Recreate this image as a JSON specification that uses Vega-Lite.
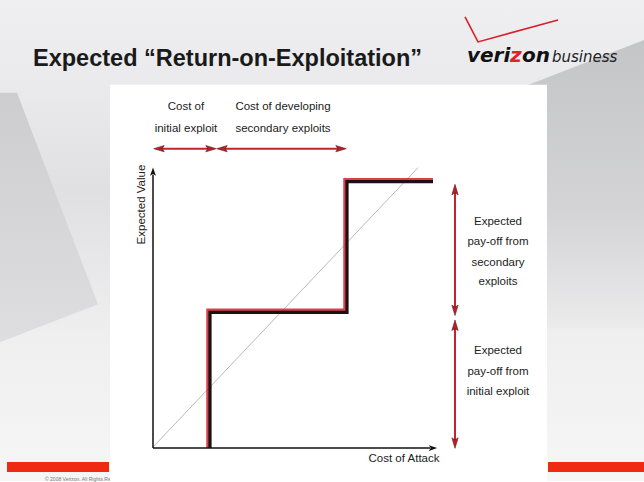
{
  "$schema": "https://vega.github.io/schema/vega-lite/v6.json",
  "width": 644,
  "height": 482,
  "autosize": {"type": "fit", "contains": "padding"},
  "padding": 0,
  "background": "#ffffff",
  "config": {"view": {"stroke": null}},
  "datasets": {
    "bg": [{"x": -153, "x2": 491, "y": -33, "y2": 449}],
    "leftWedge": [
      {"y": 356, "x": -136, "x2": -153},
      {"y": 144, "x": -55, "x2": -153},
      {"y": 106, "x": -153, "x2": -153}
    ],
    "rightWedge": [
      {"x": 347, "y": 353, "y2": 120},
      {"x": 491, "y": 409, "y2": 120}
    ],
    "redbars": [
      {"x": -146, "x2": -44, "y": -14, "y2": -24},
      {"x": 395, "x2": 491, "y": -14, "y2": -24}
    ],
    "copyright": [{"x": -108, "y": -31, "text": "© 2008 Verizon. All Rights Reserved"}],
    "panel": [{"x": -43, "x2": 394, "y": -33, "y2": 364}],
    "diag": [{"x": 0, "y": 1, "i": 0}, {"x": 265, "y": 281, "i": 1}],
    "stepShadow": [
      {"x": 55, "y": 0, "i": 0},
      {"x": 55, "y": 138, "i": 1},
      {"x": 192, "y": 138, "i": 2},
      {"x": 192, "y": 269, "i": 3},
      {"x": 280, "y": 269, "i": 4}
    ],
    "step": [
      {"x": 57, "y": 0, "i": 0},
      {"x": 57, "y": 136, "i": 1},
      {"x": 194, "y": 136, "i": 2},
      {"x": 194, "y": 267, "i": 3},
      {"x": 280, "y": 267, "i": 4}
    ],
    "axes": [
      {"seg": "v", "x": 0, "y": 0, "i": 0},
      {"seg": "v", "x": 0, "y": 274, "i": 1},
      {"seg": "h", "x": 0, "y": 0, "i": 0},
      {"seg": "h", "x": 277, "y": 0, "i": 1}
    ],
    "axisHeads": [
      {"x": 0, "y": 277, "shape": "M0,-1L-0.7,1L0,0.55L0.7,1Z"},
      {"x": 280, "y": 0, "shape": "M1,0L-1,-0.7L-0.55,0L-1,0.7Z"}
    ],
    "redArrows": [
      {"seg": "a", "x": 5, "y": 300, "i": 0},
      {"seg": "a", "x": 59, "y": 300, "i": 1},
      {"seg": "b", "x": 68, "y": 300, "i": 0},
      {"seg": "b", "x": 189, "y": 300, "i": 1},
      {"seg": "c", "x": 302, "y": 260, "i": 0},
      {"seg": "c", "x": 302, "y": 137, "i": 1},
      {"seg": "d", "x": 302, "y": 124, "i": 0},
      {"seg": "d", "x": 302, "y": 4, "i": 1}
    ],
    "redHeads": [
      {"x": 6, "y": 300, "shape": "M-1,0L1,-0.6L0.6,0L1,0.6Z"},
      {"x": 58, "y": 300, "shape": "M1,0L-1,-0.6L-0.6,0L-1,0.6Z"},
      {"x": 69, "y": 300, "shape": "M-1,0L1,-0.6L0.6,0L1,0.6Z"},
      {"x": 188, "y": 300, "shape": "M1,0L-1,-0.6L-0.6,0L-1,0.6Z"},
      {"x": 302, "y": 259, "shape": "M0,-1L-0.6,1L0,0.6L0.6,1Z"},
      {"x": 302, "y": 138, "shape": "M0,1L-0.6,-1L0,-0.6L0.6,-1Z"},
      {"x": 302, "y": 123, "shape": "M0,-1L-0.6,1L0,0.6L0.6,1Z"},
      {"x": 302, "y": 5, "shape": "M0,1L-0.6,-1L0,-0.6L0.6,-1Z"}
    ],
    "labels": [
      {"x": 33, "y": 342, "text": "Cost of"},
      {"x": 33, "y": 320, "text": "initial exploit"},
      {"x": 130, "y": 342, "text": "Cost of developing"},
      {"x": 130, "y": 320, "text": "secondary exploits"},
      {"x": 251, "y": -11, "text": "Cost of Attack"},
      {"x": 345, "y": 227, "text": "Expected"},
      {"x": 345, "y": 206, "text": "pay-off from"},
      {"x": 345, "y": 185, "text": "secondary"},
      {"x": 345, "y": 166, "text": "exploits"},
      {"x": 345, "y": 97, "text": "Expected"},
      {"x": 345, "y": 76, "text": "pay-off from"},
      {"x": 345, "y": 56, "text": "initial exploit"}
    ],
    "ylabel": [{"x": -11, "y": 244, "text": "Expected Value"}],
    "title": [{"x": -120, "y": 383, "text": "Expected “Return-on-Exploitation”"}],
    "logoBlack": [
      {"x": 314, "y": 387, "text": "veri"},
      {"x": 369, "y": 387, "text": "on"}
    ],
    "logoRed": [{"x": 357, "y": 387, "text": "z"}],
    "logoBusiness": [{"x": 399, "y": 387, "text": "business"}],
    "check": [
      {"x": 312, "y": 432, "i": 0},
      {"x": 325, "y": 407, "i": 1},
      {"x": 405, "y": 429, "i": 2}
    ]
  },
  "encoding": {
    "x": {"field": "x", "type": "quantitative", "scale": {"domain": [-153, 491], "nice": false, "zero": false}, "axis": null},
    "y": {"field": "y", "type": "quantitative", "scale": {"domain": [-33, 449], "nice": false, "zero": false}, "axis": null}
  },
  "layer": [
    {
      "data": {"name": "bg"},
      "mark": {"type": "rect", "color": {"gradient": "linear", "x1": 0, "y1": 0, "x2": 0, "y2": 1, "stops": [
        {"offset": 0, "color": "#efeff1"},
        {"offset": 0.18, "color": "#eaeaec"},
        {"offset": 0.4, "color": "#e0e0e2"},
        {"offset": 0.7, "color": "#efeff0"},
        {"offset": 1, "color": "#f6f6f6"}
      ]}},
      "encoding": {"x2": {"field": "x2"}, "y2": {"field": "y2"}}
    },
    {
      "data": {"name": "leftWedge"},
      "mark": {"type": "area", "orient": "horizontal", "color": {"gradient": "linear", "x1": 0, "y1": 0, "x2": 0, "y2": 1, "stops": [
        {"offset": 0, "color": "#cdcdcf"},
        {"offset": 1, "color": "#dedee0"}
      ]}},
      "encoding": {"x2": {"field": "x2"}}
    },
    {
      "data": {"name": "rightWedge"},
      "mark": {"type": "area", "color": {"gradient": "linear", "x1": 0, "y1": 0, "x2": 0, "y2": 1, "stops": [
        {"offset": 0, "color": "#c4c5c7"},
        {"offset": 0.6, "color": "#d4d4d6"},
        {"offset": 1, "color": "#ebebec"}
      ]}},
      "encoding": {"y2": {"field": "y2"}}
    },
    {
      "data": {"name": "redbars"},
      "mark": {"type": "rect", "color": "#ef2a12"},
      "encoding": {"x2": {"field": "x2"}, "y2": {"field": "y2"}}
    },
    {
      "data": {"name": "copyright"},
      "mark": {"type": "text", "align": "left", "baseline": "middle", "fontSize": 5, "color": "#777777", "font": "Liberation Sans"},
      "encoding": {"text": {"field": "text"}}
    },
    {
      "data": {"name": "panel"},
      "mark": {"type": "rect", "color": "#ffffff"},
      "encoding": {"x2": {"field": "x2"}, "y2": {"field": "y2"}}
    },
    {
      "data": {"name": "diag"},
      "mark": {"type": "line", "color": "#a8a8a8", "strokeWidth": 0.8},
      "encoding": {"order": {"field": "i"}}
    },
    {
      "data": {"name": "stepShadow"},
      "mark": {"type": "line", "color": "#d4202a", "strokeWidth": 3.5, "opacity": 0.85},
      "encoding": {"order": {"field": "i"}}
    },
    {
      "data": {"name": "step"},
      "mark": {"type": "line", "color": "#1a1111", "strokeWidth": 3.2},
      "encoding": {"order": {"field": "i"}}
    },
    {
      "data": {"name": "axes"},
      "mark": {"type": "line", "color": "#111111", "strokeWidth": 1.5},
      "encoding": {"detail": {"field": "seg"}, "order": {"field": "i"}}
    },
    {
      "data": {"name": "axisHeads"},
      "mark": {"type": "point", "filled": true, "color": "#111111", "size": 70, "opacity": 1},
      "encoding": {"shape": {"field": "shape", "type": "nominal", "scale": null}}
    },
    {
      "data": {"name": "redArrows"},
      "mark": {"type": "line", "color": "#c4232d", "strokeWidth": 2},
      "encoding": {"detail": {"field": "seg"}, "order": {"field": "i"}}
    },
    {
      "data": {"name": "redHeads"},
      "mark": {"type": "point", "filled": true, "color": "#b81f28", "size": 110, "opacity": 1, "stroke": "#5a1a1a", "strokeWidth": 0.6},
      "encoding": {"shape": {"field": "shape", "type": "nominal", "scale": null}}
    },
    {
      "data": {"name": "labels"},
      "mark": {"type": "text", "align": "center", "baseline": "middle", "fontSize": 11.5, "color": "#222222", "font": "Liberation Sans, Arial, sans-serif"},
      "encoding": {"text": {"field": "text"}}
    },
    {
      "data": {"name": "ylabel"},
      "mark": {"type": "text", "align": "center", "baseline": "middle", "angle": 270, "fontSize": 11.5, "color": "#222222", "font": "Liberation Sans, Arial, sans-serif"},
      "encoding": {"text": {"field": "text"}}
    },
    {
      "data": {"name": "title"},
      "mark": {"type": "text", "align": "left", "baseline": "alphabetic", "fontSize": 23.5, "fontWeight": "bold", "color": "#1a1a1a", "font": "Liberation Sans, Arial, sans-serif"},
      "encoding": {"text": {"field": "text"}}
    },
    {
      "data": {"name": "check"},
      "mark": {"type": "line", "color": "#d8202a", "strokeWidth": 1.6},
      "encoding": {"order": {"field": "i"}}
    },
    {
      "data": {"name": "logoBlack"},
      "mark": {"type": "text", "align": "left", "baseline": "alphabetic", "fontSize": 20, "fontWeight": "bold", "fontStyle": "italic", "color": "#111111", "font": "DejaVu Sans"},
      "encoding": {"text": {"field": "text"}}
    },
    {
      "data": {"name": "logoRed"},
      "mark": {"type": "text", "align": "left", "baseline": "alphabetic", "fontSize": 20, "fontWeight": "bold", "fontStyle": "italic", "color": "#e0202a", "font": "DejaVu Sans"},
      "encoding": {"text": {"field": "text"}}
    },
    {
      "data": {"name": "logoBusiness"},
      "mark": {"type": "text", "align": "left", "baseline": "alphabetic", "fontSize": 15, "fontStyle": "italic", "color": "#222222", "font": "DejaVu Sans"},
      "encoding": {"text": {"field": "text"}}
    }
  ]
}
